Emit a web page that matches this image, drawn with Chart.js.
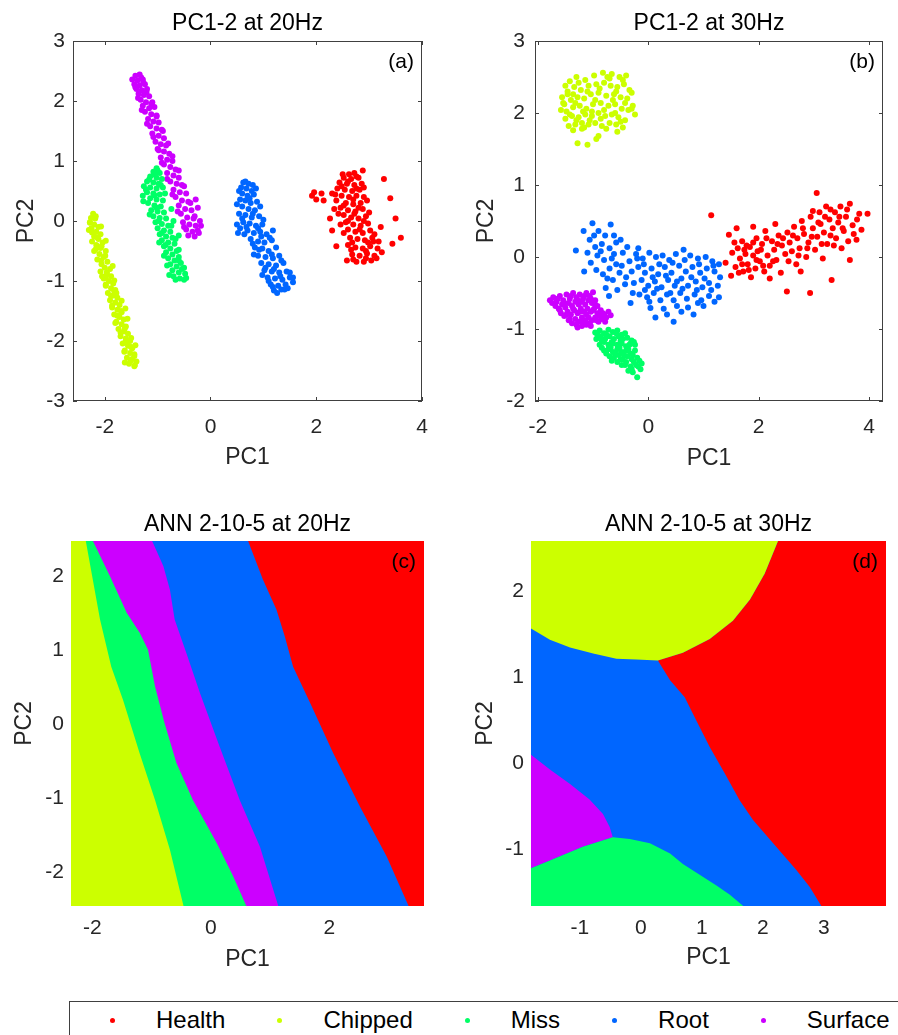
<!DOCTYPE html>
<html lang="en">
<head>
<meta charset="utf-8">
<title>PC1-2 / ANN 2-10-5</title>
<script src="https://cdn.jsdelivr.net/npm/chart.js@4.4.1/dist/chart.umd.min.js"></script>
<style>
  body { margin: 0; background: #fff; }
  #figura { position: relative; width: 898px; height: 1035px; overflow: hidden; font-family: "Liberation Sans", Arial, Helvetica, sans-serif; }
  .panel { position: absolute; }
  .panel canvas { display: block; }
  #leyenda { position: absolute; left: 69px; top: 1001px; width: 900px; height: 60px; box-sizing: border-box;
             border: 1px solid #404040; display: flex; align-items: flex-start; padding: 4px 0 0 40px;
             font-size: 24px; line-height: 28px; color: #000; }
  .item { display: flex; align-items: center; margin-right: 52px; }
  .punto { width: 5px; height: 5px; border-radius: 50%; margin-right: 41px; }
</style>
</head>
<body>
<div id="figura">
  <div class="panel" style="left:0;top:0"><canvas id="chartA" width="450" height="480"></canvas></div>
  <div class="panel" style="left:450px;top:0"><canvas id="chartB" width="448" height="480"></canvas></div>
  <div class="panel" style="left:0;top:480px"><canvas id="chartC" width="450" height="500"></canvas></div>
  <div class="panel" style="left:450px;top:480px"><canvas id="chartD" width="448" height="500"></canvas></div>
  <div id="leyenda"></div>
</div>

<script>
// clases y colores (hsv de 5 colores)
const clases = ['Health', 'Chipped', 'Miss', 'Root', 'Surface'];
const colores = { Health: '#ff0000', Chipped: '#ccff00', Miss: '#00ff66', Root: '#0066ff', Surface: '#cc00ff' };

// ---- (a) PC1-2 a 20Hz ----
const healthA = [[2.62,0.78],[2.72,0.8],[2.52,0.72],[2.66,0.7],[2.8,0.72],[2.44,0.64],[2.58,0.62],[2.72,0.6],[2.86,0.62],[2.4,0.54],[2.54,0.52],[2.68,0.5],[2.82,0.52],[2.3,0.46],[2.48,0.42],[2.62,0.4],[2.76,0.42],[2.9,0.4],[2.38,0.34],[2.56,0.3],[2.7,0.28],[2.84,0.3],[2.46,0.22],[2.6,0.18],[2.74,0.16],[2.88,0.2],[2.52,0.1],[2.66,0.06],[2.8,0.04],[2.94,0.08],[2.56,-0.02],[2.7,-0.06],[2.84,-0.08],[2.98,-0.04],[2.6,-0.14],[2.74,-0.18],[2.88,-0.2],[3.02,-0.16],[2.64,-0.28],[2.78,-0.3],[2.92,-0.32],[3.06,-0.28],[3.18,-0.34],[2.6,-0.4],[2.74,-0.44],[2.88,-0.46],[3.02,-0.42],[3.16,-0.46],[2.68,-0.56],[2.82,-0.58],[2.96,-0.54],[3.1,-0.58],[2.58,-0.66],[2.76,-0.68],[2.94,-0.62],[3.04,-0.66],[1.92,0.42],[2.0,0.36],[2.1,0.46],[2.14,0.34],[1.96,0.48],[2.88,0.84],[3.28,0.7],[3.4,0.38],[3.5,0.04],[3.6,-0.28],[3.44,-0.38],[2.38,-0.42],[2.3,-0.16],[2.26,0.04],[3.22,-0.1],
  [2.5,0.78],[2.76,0.74],[2.6,0.66],[2.48,0.58],[2.9,0.56],[2.76,0.54],[2.36,0.44],[2.7,0.36],[2.96,0.34],[2.52,0.26],[2.8,0.22],[2.42,0.12],[2.72,0.12],[3.0,0.14],[2.6,0.0],[2.9,-0.0],[2.52,-0.2],[2.82,-0.14],[3.1,-0.22],[2.68,-0.36],[2.98,-0.36],[2.66,-0.48],[2.94,-0.5],[3.24,-0.52],[2.9,-0.68],[2.7,-0.64],[3.14,-0.62],[3.08,-0.34],[2.46,-0.06],[2.34,0.2]];
const chippedA = [[-2.22,0.12],[-2.26,0.05],[-2.18,0.04],[-2.28,-0.02],[-2.2,-0.06],[-2.12,-0.1],[-2.25,-0.12],[-2.16,-0.18],[-2.3,-0.15],[-2.08,-0.22],[-2.2,-0.26],[-2.12,-0.3],[-2.24,-0.34],[-2.04,-0.36],[-2.16,-0.4],[-2.08,-0.45],[-2.2,-0.5],[-1.98,-0.5],[-2.1,-0.55],[-2.02,-0.6],[-2.14,-0.64],[-1.95,-0.68],[-2.06,-0.72],[-2.0,-0.78],[-1.9,-0.8],[-2.08,-0.84],[-1.96,-0.88],[-1.88,-0.92],[-2.02,-0.96],[-1.92,-1.0],[-1.84,-1.04],[-1.98,-1.08],[-1.88,-1.12],[-1.8,-1.15],[-1.94,-1.2],[-1.84,-1.24],[-1.76,-1.28],[-1.9,-1.32],[-1.8,-1.36],[-1.72,-1.4],[-1.86,-1.44],[-1.76,-1.48],[-1.68,-1.52],[-1.82,-1.56],[-1.72,-1.6],[-1.64,-1.64],[-1.78,-1.68],[-1.68,-1.72],[-1.6,-1.76],[-1.74,-1.8],[-1.64,-1.84],[-1.56,-1.88],[-1.7,-1.92],[-1.6,-1.96],[-1.52,-2.0],[-1.66,-2.04],[-1.56,-2.08],[-1.48,-2.12],[-1.62,-2.16],[-1.52,-2.2],[-1.44,-2.22],[-1.58,-2.28],[-1.48,-2.3],[-1.4,-2.34],[-1.54,-2.38],[-1.44,-2.42],[-1.62,-2.36],[-2.06,-0.42],[-1.98,-0.94],[-1.78,-1.2],
  [-2.17,0.08],[-2.28,-0.03],[-2.07,-0.09],[-2.15,-0.27],[-1.98,-0.33],[-2.17,-0.47],[-1.99,-0.58],[-2.07,-0.66],[-1.85,-0.75],[-1.96,-0.86],[-1.82,-0.99],[-1.98,-1.06],[-1.82,-1.17],[-1.88,-1.25],[-1.68,-1.33],[-1.86,-1.41],[-1.69,-1.5],[-1.76,-1.58],[-1.57,-1.63],[-1.8,-1.7],[-1.62,-1.79],[-1.7,-1.86],[-1.5,-1.95],[-1.61,-2.02],[-1.5,-2.1],[-1.63,-2.18],[-1.44,-2.25],[-1.51,-2.33],[-1.43,-2.4],[-2.24,-0.19],[-1.61,-1.46],[-2.05,-0.92],[-1.42,-2.07]];
const missA = [[-1.02,0.88],[-1.08,0.82],[-0.96,0.8],[-1.14,0.74],[-1.02,0.72],[-0.92,0.7],[-1.2,0.66],[-1.08,0.64],[-0.98,0.62],[-1.26,0.58],[-1.14,0.56],[-1.02,0.54],[-0.9,0.56],[-1.2,0.48],[-1.08,0.46],[-0.96,0.44],[-1.28,0.42],[-1.14,0.38],[-1.02,0.36],[-0.9,0.34],[-1.18,0.3],[-1.06,0.26],[-0.94,0.24],[-1.12,0.18],[-1.0,0.16],[-0.88,0.14],[-1.08,0.08],[-0.96,0.05],[-0.84,0.04],[-1.04,-0.02],[-0.92,-0.05],[-0.8,-0.08],[-1.0,-0.12],[-0.88,-0.16],[-0.76,-0.18],[-0.96,-0.22],[-0.84,-0.26],[-0.72,-0.28],[-0.92,-0.32],[-0.8,-0.36],[-0.68,-0.38],[-0.88,-0.42],[-0.76,-0.46],[-0.64,-0.5],[-0.84,-0.52],[-0.72,-0.56],[-0.6,-0.6],[-0.8,-0.62],[-0.68,-0.66],[-0.56,-0.7],[-0.76,-0.72],[-0.64,-0.76],[-0.5,-0.78],[-0.72,-0.82],[-0.6,-0.86],[-0.48,-0.88],[-0.7,-0.92],[-0.58,-0.96],[-0.5,-0.98],[-0.66,-0.98],[-0.74,0.2],[-0.7,0.0],[-0.6,-0.24],
  [-1.0,0.84],[-1.05,0.77],[-1.16,0.69],[-0.94,0.6],[-1.22,0.52],[-1.06,0.43],[-1.27,0.33],[-1.02,0.22],[-1.15,0.11],[-0.98,0.0],[-0.74,-0.08],[-0.92,-0.2],[-0.66,-0.3],[-0.85,-0.4],[-0.6,-0.48],[-0.88,-0.58],[-0.6,-0.66],[-0.82,-0.74],[-0.54,-0.8],[-0.78,-0.9],[-0.46,-0.95],[-0.97,-0.36],[-0.86,0.46]];
const rootA = [[0.62,0.64],[0.72,0.62],[0.8,0.6],[0.58,0.56],[0.68,0.54],[0.78,0.5],[0.6,0.46],[0.7,0.42],[0.82,0.44],[0.56,0.36],[0.66,0.34],[0.76,0.3],[0.88,0.32],[0.6,0.24],[0.72,0.2],[0.84,0.18],[0.54,0.12],[0.66,0.1],[0.78,0.06],[0.92,0.08],[0.62,-0.02],[0.74,-0.04],[0.86,-0.08],[0.98,-0.06],[0.56,-0.12],[0.7,-0.16],[0.82,-0.2],[0.94,-0.18],[1.06,-0.22],[0.76,-0.3],[0.9,-0.34],[1.02,-0.36],[1.16,-0.32],[0.84,-0.44],[0.98,-0.46],[1.1,-0.5],[0.9,-0.58],[1.04,-0.6],[1.18,-0.62],[1.3,-0.58],[0.96,-0.7],[1.1,-0.72],[1.24,-0.74],[1.38,-0.7],[1.02,-0.82],[1.16,-0.84],[1.3,-0.86],[1.44,-0.84],[1.08,-0.94],[1.22,-0.96],[1.36,-0.98],[1.5,-0.94],[1.14,-1.06],[1.28,-1.08],[1.42,-1.06],[1.2,-1.16],[1.34,-1.14],[1.46,-1.12],[0.64,-0.22],[1.56,-1.02],[0.5,-0.06],[1.18,-0.16],
  [0.66,0.66],[0.54,0.5],[0.86,0.54],[0.74,0.38],[0.5,0.28],[0.94,0.24],[0.8,0.12],[0.6,0.04],[1.0,0.02],[0.68,-0.1],[0.9,-0.12],[0.52,-0.2],[1.12,-0.28],[0.8,-0.38],[0.96,-0.26],[1.24,-0.44],[0.92,-0.48],[1.16,-0.56],[0.82,-0.56],[1.34,-0.66],[1.04,-0.78],[1.2,-0.8],[0.98,-0.9],[1.5,-0.86],[1.32,-0.92],[1.1,-1.0],[1.56,-0.94],[1.4,-1.14],[1.26,-1.2],[1.18,-1.1]];
const surfaceA = [[-1.42,2.42],[-1.34,2.44],[-1.48,2.36],[-1.38,2.34],[-1.28,2.36],[-1.44,2.28],[-1.34,2.26],[-1.24,2.28],[-1.4,2.2],[-1.3,2.18],[-1.2,2.2],[-1.36,2.12],[-1.26,2.1],[-1.16,2.08],[-1.32,2.02],[-1.22,1.98],[-1.1,1.98],[-1.28,1.92],[-1.16,1.88],[-1.06,1.9],[-1.24,1.82],[-1.12,1.78],[-1.02,1.76],[-1.18,1.7],[-1.08,1.66],[-0.98,1.64],[-1.14,1.58],[-1.02,1.54],[-0.92,1.52],[-1.1,1.46],[-0.98,1.42],[-0.88,1.38],[-1.04,1.32],[-0.94,1.28],[-0.84,1.26],[-1.0,1.2],[-0.88,1.16],[-0.78,1.12],[-0.94,1.06],[-0.82,1.02],[-0.72,1.0],[-0.88,0.94],[-0.76,0.9],[-0.66,0.86],[-0.82,0.8],[-0.7,0.76],[-0.6,0.72],[-0.76,0.66],[-0.64,0.62],[-0.54,0.6],[-0.7,0.52],[-0.58,0.48],[-0.46,0.46],[-0.66,0.4],[-0.54,0.34],[-0.42,0.32],[-0.6,0.26],[-0.48,0.2],[-0.36,0.18],[-0.56,0.12],[-0.44,0.06],[-0.32,0.04],[-0.52,-0.02],[-0.4,-0.06],[-0.28,-0.08],[-0.46,-0.14],[-0.34,-0.18],[-0.24,-0.16],[-0.42,-0.24],[-0.3,-0.26],[-0.28,0.36],[-0.24,0.22],[-0.2,0.0],
  [-1.31,2.39],[-1.27,2.31],[-1.42,2.23],[-1.21,2.15],[-1.37,2.05],[-1.12,1.95],[-1.3,1.85],[-1.02,1.74],[-1.2,1.62],[-0.9,1.5],[-1.08,1.4],[-0.8,1.29],[-0.98,1.18],[-0.72,1.08],[-0.92,0.97],[-0.6,0.84],[-0.82,0.7],[-0.5,0.58],[-0.72,0.44],[-0.38,0.3],[-0.62,0.16],[-0.3,0.08],[-0.5,-0.1],[-0.22,-0.2],[-0.18,-0.08]];

// ---- (b) PC1-2 a 30Hz ----
const healthB = [[1.14,0.58],[1.4,-0.08],[1.46,0.31],[1.5,-0.26],[1.52,0.06],[1.58,-0.14],[1.62,0.12],[1.66,-0.02],[1.7,0.22],[1.72,-0.2],[1.76,0.04],[1.8,-0.1],[1.84,0.14],[1.86,-0.28],[1.9,0.02],[1.94,-0.16],[1.96,0.26],[1.98,0.08],[2.02,-0.06],[2.06,0.18],[2.1,-0.2],[2.12,0.36],[2.16,0.02],[2.2,-0.12],[2.24,0.22],[2.28,0.1],[2.32,-0.04],[2.36,0.3],[2.4,-0.22],[2.42,0.16],[2.48,0.04],[2.51,-0.48],[2.52,0.34],[2.56,0.2],[2.6,0.08],[2.64,0.42],[2.68,-0.1],[2.7,0.26],[2.74,0.12],[2.78,0.5],[2.82,0.32],[2.86,0.0],[2.9,0.2],[2.93,-0.5],[2.94,0.56],[2.98,0.4],[3.02,0.1],[3.05,0.89],[3.06,0.28],[3.1,0.62],[3.12,0.46],[3.16,-0.02],[3.18,0.34],[3.22,0.7],[3.24,0.18],[3.28,0.52],[3.32,-0.32],[3.34,0.4],[3.38,0.62],[3.4,0.26],[3.44,0.48],[3.48,0.7],[3.5,0.12],[3.54,0.36],[3.58,0.56],[3.62,0.22],[3.65,-0.04],[3.65,0.74],[3.7,0.44],[3.77,0.24],[3.82,0.6],[3.86,0.38],[3.97,0.6],[1.9,0.42],[2.3,0.46],[1.6,0.4],[2.2,-0.3],[2.76,-0.2],
  [1.56,0.2],[1.64,-0.22],[1.74,0.1],[1.82,-0.18],[1.9,0.2],[1.96,-0.04],[2.04,0.1],[2.08,-0.12],[2.14,0.26],[2.26,-0.06],[2.34,0.18],[2.44,0.26],[2.54,-0.06],[2.62,0.3],[2.72,0.02],[2.8,0.4],[2.88,0.12],[2.96,0.28],[3.08,0.48],[3.14,0.18],[3.2,0.56],[3.3,0.3],[3.36,0.16],[3.46,0.56],[3.52,0.4],[3.6,0.66],[3.72,0.32],[3.78,0.52],[3.3,0.66],[2.98,0.64],[1.7,-0.1],[1.78,0.16]];
const chippedB = [[-1.5,2.38],[-1.42,2.44],[-1.3,2.5],[-1.14,2.46],[-0.98,2.52],[-0.82,2.56],[-0.66,2.54],[-0.52,2.5],[-0.4,2.52],[-1.56,2.22],[-1.46,2.3],[-1.34,2.36],[-1.22,2.32],[-1.08,2.38],[-0.94,2.4],[-0.8,2.42],[-0.68,2.38],[-0.56,2.36],[-0.44,2.4],[-0.34,2.32],[-1.52,2.12],[-1.4,2.18],[-1.28,2.22],[-1.16,2.2],[-1.04,2.26],[-0.9,2.28],[-0.76,2.24],[-0.62,2.26],[-0.5,2.22],[-0.38,2.2],[-0.28,2.1],[-1.58,2.04],[-1.48,2.02],[-1.36,2.08],[-1.24,2.1],[-1.12,2.06],[-1.0,2.12],[-0.86,2.14],[-0.72,2.1],[-0.6,2.12],[-0.48,2.06],[-0.36,2.04],[-0.24,1.98],[-1.5,1.92],[-1.38,1.96],[-1.26,1.94],[-1.14,1.98],[-1.02,1.96],[-0.9,2.0],[-0.78,1.96],[-0.66,1.98],[-0.54,1.94],[-0.42,1.9],[-1.44,1.82],[-1.32,1.84],[-1.2,1.86],[-1.08,1.84],[-0.96,1.86],[-0.84,1.82],[-0.7,1.86],[-0.58,1.84],[-0.46,1.8],[-1.36,1.76],[-1.2,1.78],[-0.9,1.68],[-0.94,1.64],[-1.28,1.58],[-1.1,1.56],[-0.56,1.74],[-0.3,2.28],[-0.7,2.48],
  [-1.46,2.26],[-1.26,2.42],[-1.1,2.3],[-0.88,2.34],[-0.74,2.5],[-0.58,2.3],[-0.46,2.46],[-1.32,2.14],[-1.18,2.02],[-0.96,2.18],[-0.8,2.04],[-0.64,2.18],[-0.42,2.14],[-1.42,1.98],[-1.3,1.9],[-1.06,1.9],[-0.86,1.92],[-0.6,2.0],[-0.5,1.88],[-1.54,2.14],[-1.16,1.8],[-0.76,1.78],[-1.02,2.02],[-0.3,2.06],[-1.36,2.26]];
const missB = [[-0.96,-1.05],[-0.88,-1.02],[-0.8,-1.06],[-0.72,-1.01],[-0.64,-1.04],[-0.56,-1.02],[-0.48,-1.08],[-0.94,-1.14],[-0.86,-1.1],[-0.78,-1.14],[-0.7,-1.1],[-0.62,-1.14],[-0.54,-1.1],[-0.46,-1.14],[-0.38,-1.12],[-0.3,-1.16],[-0.88,-1.22],[-0.8,-1.18],[-0.72,-1.22],[-0.64,-1.2],[-0.56,-1.22],[-0.48,-1.2],[-0.4,-1.24],[-0.32,-1.2],[-0.24,-1.22],[-0.8,-1.3],[-0.72,-1.28],[-0.64,-1.32],[-0.56,-1.28],[-0.48,-1.32],[-0.4,-1.3],[-0.32,-1.34],[-0.24,-1.3],[-0.7,-1.38],[-0.62,-1.4],[-0.54,-1.36],[-0.46,-1.42],[-0.38,-1.38],[-0.3,-1.42],[-0.2,-1.4],[-0.12,-1.48],[-0.56,-1.46],[-0.48,-1.5],[-0.4,-1.46],[-0.32,-1.52],[-0.22,-1.5],[-0.14,-1.56],[-0.36,-1.58],[-0.28,-1.6],[-0.2,-1.67],
  [-0.92,-1.08],[-0.84,-1.16],[-0.76,-1.08],[-0.66,-1.18],[-0.58,-1.06],[-0.5,-1.16],[-0.42,-1.06],[-0.34,-1.22],[-0.26,-1.18],[-0.84,-1.26],[-0.68,-1.26],[-0.6,-1.34],[-0.52,-1.26],[-0.44,-1.36],[-0.36,-1.28],[-0.28,-1.36],[-0.66,-1.44],[-0.5,-1.42],[-0.42,-1.5],[-0.26,-1.46],[-0.18,-1.52],[-0.3,-1.56],[-0.16,-1.44],[-0.76,-1.34]];
const rootB = [[-1.31,0.09],[-1.16,-0.2],[-1.01,0.47],[-0.68,0.45],[-1.17,0.36],[-0.9,0.36],[-0.78,0.3],[-1.06,0.24],[-0.96,0.14],[-0.84,0.18],[-0.7,0.12],[-1.04,-0.08],[-0.92,0.02],[-0.8,-0.04],[-0.66,-0.02],[-0.58,0.2],[-0.5,0.24],[-0.94,-0.18],[-0.82,-0.24],[-0.7,-0.16],[-0.58,-0.1],[-0.77,-0.43],[-0.71,-0.54],[-0.64,-0.32],[-0.52,-0.22],[-0.46,0.06],[-0.42,-0.38],[-0.32,-0.64],[-0.56,-0.46],[-0.34,-0.06],[-0.22,0.04],[-0.1,-0.02],[0.02,0.06],[0.14,0.0],[0.26,0.02],[0.38,-0.04],[0.5,0.04],[0.64,0.1],[0.76,0.02],[0.9,-0.02],[1.04,0.0],[1.16,-0.06],[-0.3,-0.2],[-0.18,-0.14],[-0.06,-0.22],[0.06,-0.16],[0.18,-0.24],[0.3,-0.14],[0.42,-0.22],[0.56,-0.12],[0.68,-0.2],[0.8,-0.14],[0.94,-0.22],[1.06,-0.16],[1.2,-0.2],[1.28,-0.1],[-0.26,-0.36],[-0.12,-0.32],[0.0,-0.4],[0.12,-0.34],[0.24,-0.42],[0.36,-0.32],[0.48,-0.4],[0.6,-0.3],[0.72,-0.4],[0.86,-0.34],[0.98,-0.42],[1.1,-0.36],[1.26,-0.4],[-0.16,-0.52],[-0.02,-0.56],[0.1,-0.5],[0.22,-0.6],[0.34,-0.52],[0.46,-0.6],[0.58,-0.5],[0.7,-0.58],[0.84,-0.52],[0.96,-0.6],[1.1,-0.54],[1.28,-0.56],[0.04,-0.71],[0.13,-0.84],[0.28,-0.72],[0.46,-0.9],[0.6,-0.76],[0.82,-0.8],[0.72,-0.7],[1.0,-0.68],
  [-0.98,0.3],[-0.86,0.08],[-0.62,0.3],[-1.1,0.06],[-0.74,-0.3],[-0.62,0.04],[-0.48,-0.12],[-0.38,0.14],[-0.4,-0.28],[-0.28,-0.5],[-0.2,-0.02],[-0.08,-0.1],[0.08,-0.28],[0.2,-0.1],[0.32,-0.26],[0.44,-0.08],[0.52,-0.34],[0.62,-0.44],[0.66,-0.04],[0.78,-0.28],[0.88,-0.46],[0.92,-0.1],[1.02,-0.3],[1.14,-0.46],[1.18,-0.12],[1.3,-0.28],[0.4,-0.5],[0.16,-0.44],[-0.06,-0.46],[0.52,-0.68],[0.34,-0.8],[0.9,-0.64],[1.2,-0.62],[0.02,-0.62],[-0.18,0.12]];
const surfaceB = [[-1.78,-0.6],[-1.72,-0.56],[-1.66,-0.62],[-1.6,-0.54],[-1.54,-0.6],[-1.48,-0.52],[-1.42,-0.58],[-1.36,-0.5],[-1.3,-0.56],[-1.24,-0.52],[-1.18,-0.58],[-1.12,-0.5],[-1.06,-0.54],[-1.0,-0.49],[-1.68,-0.68],[-1.62,-0.72],[-1.56,-0.66],[-1.5,-0.7],[-1.44,-0.64],[-1.38,-0.68],[-1.32,-0.62],[-1.26,-0.66],[-1.2,-0.62],[-1.14,-0.66],[-1.08,-0.6],[-1.02,-0.64],[-0.96,-0.6],[-0.92,-0.68],[-1.58,-0.78],[-1.52,-0.82],[-1.46,-0.76],[-1.4,-0.8],[-1.34,-0.74],[-1.28,-0.78],[-1.22,-0.72],[-1.16,-0.76],[-1.1,-0.72],[-1.04,-0.76],[-0.98,-0.72],[-0.92,-0.78],[-0.86,-0.74],[-0.8,-0.8],[-0.72,-0.76],[-0.68,-0.81],[-1.44,-0.88],[-1.38,-0.92],[-1.32,-0.86],[-1.26,-0.9],[-1.2,-0.84],[-1.14,-0.88],[-1.08,-0.84],[-1.02,-0.88],[-0.96,-0.84],[-0.9,-0.9],[-0.84,-0.86],[-0.78,-0.9],[-1.28,-0.98],[-1.2,-0.96],[-1.12,-0.94],[-1.04,-0.96],
  [-1.74,-0.64],[-1.64,-0.58],[-1.52,-0.64],[-1.4,-0.54],[-1.28,-0.6],[-1.16,-0.54],[-1.04,-0.58],[-0.96,-0.66],[-1.6,-0.74],[-1.48,-0.8],[-1.36,-0.72],[-1.24,-0.76],[-1.12,-0.8],[-1.0,-0.74],[-0.88,-0.82],[-0.76,-0.84],[-1.42,-0.86],[-1.3,-0.94],[-1.18,-0.9],[-1.06,-0.92],[-0.94,-0.88],[-0.82,-0.78]];

// ---- (c) fronteras de decision ANN a 20Hz (de arriba a abajo) ----
const bordeChippedMissC = [[-2.11,2.47],[-1.87,1.41],[-1.68,0.77],[-1.48,0.32],[-1.2,-0.4],[-0.94,-1.03],[-0.69,-1.7],[-0.46,-2.46]];
const bordeMissSurfaceC = [[-1.99,2.47],[-1.7,1.99],[-1.42,1.5],[-1.2,1.23],[-1.06,1.0],[-0.94,0.5],[-0.78,0.01],[-0.58,-0.53],[-0.3,-1.03],[0.1,-1.61],[0.38,-2.06],[0.6,-2.46]];
const bordeSurfaceRootC = [[-0.99,2.47],[-0.8,2.13],[-0.69,1.81],[-0.61,1.41],[-0.41,0.95],[-0.18,0.41],[0.15,-0.31],[0.49,-1.03],[0.83,-1.66],[1.14,-2.46]];
const bordeRootHealthC = [[0.63,2.47],[0.88,1.95],[1.11,1.54],[1.25,1.18],[1.39,0.77],[1.68,0.28],[2.07,-0.4],[2.52,-1.12],[2.97,-1.79],[3.34,-2.46]];

// ---- (d) fronteras de decision ANN a 30Hz ----
const bordeChippedRootD = [[-1.8,1.57],[-1.49,1.44],[-1.16,1.35],[-0.78,1.28],[-0.4,1.22],[-0.07,1.21],[0.28,1.2]];
const bordeChippedHealthD = [[0.28,1.2],[0.69,1.29],[1.13,1.45],[1.51,1.66],[1.79,1.91],[2.03,2.21],[2.25,2.59]];
const bordeRootHealthD = [[0.28,1.2],[0.48,0.97],[0.72,0.77],[0.91,0.5],[1.13,0.19],[1.38,-0.12],[1.62,-0.43],[1.84,-0.66],[2.17,-0.93],[2.55,-1.24],[2.77,-1.44],[2.96,-1.66]];
const bordeSurfaceD = [[-1.8,0.1],[-1.49,-0.07],[-1.16,-0.24],[-0.84,-0.42],[-0.62,-0.59],[-0.51,-0.74],[-0.46,-0.86],[-0.95,-0.97],[-1.49,-1.13],[-1.8,-1.22]];
const bordeMissD = [[-1.8,-1.22],[-1.49,-1.13],[-0.95,-0.97],[-0.46,-0.86],[-0.18,-0.88],[0.15,-0.93],[0.48,-1.05],[0.69,-1.17],[1.24,-1.42],[1.46,-1.53],[1.68,-1.66]];

// ticks
const ticksXA = [-2, 0, 2, 4];
const ticksYA = [-3, -2, -1, 0, 1, 2, 3];
const ticksXB = [-2, 0, 2, 4];
const ticksYB = [-2, -1, 0, 1, 2, 3];
const ticksXC = [-2, 0, 2];
const ticksYC = [-2, -1, 0, 1, 2];
const ticksXD = [-1, 0, 1, 2, 3];
const ticksYD = [-1, 0, 1, 2];

const FUENTE = '"Liberation Sans", Arial, Helvetica, sans-serif';
Chart.defaults.font.family = FUENTE;
Chart.defaults.color = '#262626';

// caja de ejes con ticks hacia adentro (estilo MATLAB)
const pluginCaja = {
    id: 'cajaEjes',
    afterDatasetsDraw(chart, args, opts) {
        if (!opts.mostrar) return;
        const { ctx, chartArea: a, scales: { x, y } } = chart;
        ctx.save();
        ctx.strokeStyle = '#404040';
        ctx.lineWidth = 1;
        ctx.strokeRect(a.left + 0.5, a.top + 0.5, a.width - 1, a.height - 1);
        ctx.beginPath();
        x.ticks.forEach(t => {
            const px = Math.round(x.getPixelForValue(t.value)) + 0.5;
            ctx.moveTo(px, a.bottom); ctx.lineTo(px, a.bottom - 4);
            ctx.moveTo(px, a.top); ctx.lineTo(px, a.top + 4);
        });
        y.ticks.forEach(t => {
            const py = Math.round(y.getPixelForValue(t.value)) + 0.5;
            ctx.moveTo(a.left, py); ctx.lineTo(a.left + 4, py);
            ctx.moveTo(a.right, py); ctx.lineTo(a.right - 4, py);
        });
        ctx.stroke();
        ctx.restore();
    }
};

// (a), (b), ... en la esquina superior derecha
const pluginEtiqueta = {
    id: 'etiquetaPanel',
    afterDraw(chart, args, opts) {
        const { ctx, chartArea: a } = chart;
        ctx.save();
        ctx.font = '21px ' + FUENTE;
        ctx.fillStyle = '#000';
        ctx.textAlign = 'right';
        ctx.textBaseline = 'middle';
        ctx.fillText(opts.texto, a.right - 8, a.top + 21);
        ctx.restore();
    }
};

function puntos(lista) {
    return lista.map(([x, y]) => ({ x: x, y: y }));
}

function serieDispersion(nombre, lista) {
    return {
        label: nombre,
        data: puntos(lista),
        showLine: false,
        pointRadius: 3,
        pointBorderWidth: 0,
        pointBackgroundColor: colores[nombre],
        backgroundColor: colores[nombre]
    };
}

function capaRegion(nombre, poligono) {
    return {
        label: nombre,
        data: puntos(poligono),
        showLine: true,
        fill: 'shape',
        backgroundColor: colores[nombre],
        borderWidth: 0,
        pointRadius: 0
    };
}

// capas ordenadas de abajo hacia arriba
function ordenarCapas(capas) {
    capas.forEach((c, i) => { c.order = capas.length - i; });
    return capas;
}

function regionesC(lim) {
    const x0 = lim.x[0] - 0.1, x1 = lim.x[1] + 0.1, y0 = lim.y[0] - 0.1, y1 = lim.y[1] + 0.1;
    return ordenarCapas([
        capaRegion('Health', [[x0, y1], [x1, y1], [x1, y0], [x0, y0]]),
        capaRegion('Root', [[x0, y1], ...bordeRootHealthC, [x0, y0]]),
        capaRegion('Surface', [[x0, y1], ...bordeSurfaceRootC, [x0, y0]]),
        capaRegion('Miss', [[x0, y1], ...bordeMissSurfaceC, [x0, y0]]),
        capaRegion('Chipped', [[x0, y1], ...bordeChippedMissC, [x0, y0]])
    ]);
}

function regionesD(lim) {
    const x0 = lim.x[0] - 0.1, x1 = lim.x[1] + 0.1, y0 = lim.y[0] - 0.1, y1 = lim.y[1] + 0.1;
    return ordenarCapas([
        capaRegion('Health', [[x0, y1], [x1, y1], [x1, y0], [x0, y0]]),
        capaRegion('Root', [[x0, y1], ...bordeChippedHealthD.slice().reverse(), ...bordeRootHealthD, [x0, y0]]),
        capaRegion('Chipped', [[x0, y1], ...bordeChippedRootD, ...bordeChippedHealthD]),
        capaRegion('Surface', bordeSurfaceD),
        capaRegion('Miss', [...bordeMissD, [x0, y0]])
    ]);
}

function crearPanel(id, cfg) {
    return new Chart(document.getElementById(id), {
        type: 'scatter',
        data: { datasets: cfg.datasets },
        options: {
            responsive: false,
            animation: false,
            events: [],
            layout: { autoPadding: false, padding: { left: 0, right: cfg.derecha, top: 0, bottom: 0 } },
            plugins: {
                legend: { display: false },
                tooltip: { enabled: false },
                title: {
                    display: true, text: cfg.titulo, fullSize: false, color: '#000',
                    font: { size: 23, weight: 'normal' },
                    padding: { top: cfg.tituloArriba, bottom: cfg.tituloAbajo }
                },
                etiquetaPanel: { texto: cfg.etiqueta },
                cajaEjes: { mostrar: cfg.caja }
            },
            scales: {
                x: {
                    type: 'linear', min: cfg.limites.x[0], max: cfg.limites.x[1],
                    grid: { display: false, drawTicks: false },
                    border: { display: false },
                    ticks: { padding: cfg.padTickX, font: { size: 21 }, maxRotation: 0, minRotation: 0, autoSkip: false },
                    afterBuildTicks: s => { s.ticks = cfg.ticksX.map(v => ({ value: v })); },
                    afterFit: s => { s.height = cfg.altoX; s.paddingLeft = 0; s.paddingRight = 0; },
                    title: { display: true, text: 'PC1', font: { size: 23 }, padding: { top: 0, bottom: cfg.padTituloX } }
                },
                y: {
                    type: 'linear', min: cfg.limites.y[0], max: cfg.limites.y[1],
                    grid: { display: false, drawTicks: false },
                    border: { display: false },
                    ticks: { padding: cfg.padTickY, font: { size: 21 }, autoSkip: false },
                    afterBuildTicks: s => { s.ticks = cfg.ticksY.map(v => ({ value: v })); },
                    afterFit: s => { s.width = cfg.anchoY; s.paddingTop = 0; s.paddingBottom = 0; },
                    title: { display: true, text: 'PC2', font: { size: 23 }, padding: { top: cfg.padTituloY, bottom: 0 } }
                }
            }
        },
        plugins: [pluginCaja, pluginEtiqueta]
    });
}

function crearLeyenda() {
    const cont = document.getElementById('leyenda');
    clases.forEach(nombre => {
        const item = document.createElement('div');
        item.className = 'item';
        const punto = document.createElement('span');
        punto.className = 'punto';
        punto.style.background = colores[nombre];
        const texto = document.createElement('span');
        texto.textContent = nombre;
        item.appendChild(punto);
        item.appendChild(texto);
        cont.appendChild(item);
    });
}

document.addEventListener('DOMContentLoaded', function() {
    const limA = { x: [-2.6, 4], y: [-3, 3] };
    const limB = { x: [-2.05, 4.25], y: [-2, 3] };
    const limC = { x: [-2.36, 3.6], y: [-2.46, 2.47] };
    const limD = { x: [-1.8, 4.02], y: [-1.66, 2.59] };

    crearPanel('chartA', {
        titulo: 'PC1-2 at 20Hz', etiqueta: '(a)', caja: true, limites: limA,
        ticksX: ticksXA, ticksY: ticksYA,
        datasets: [serieDispersion('Health', healthA), serieDispersion('Chipped', chippedA),
                   serieDispersion('Miss', missA), serieDispersion('Root', rootA), serieDispersion('Surface', surfaceA)],
        derecha: 28, anchoY: 73, altoX: 79, tituloArriba: 9.7, tituloAbajo: 3.7,
        padTickX: 13.4, padTickY: 8, padTituloX: 8.2, padTituloY: 13.2
    });
    crearPanel('chartB', {
        titulo: 'PC1-2 at 30Hz', etiqueta: '(b)', caja: true, limites: limB,
        ticksX: ticksXB, ticksY: ticksYB,
        datasets: [serieDispersion('Health', healthB), serieDispersion('Chipped', chippedB),
                   serieDispersion('Miss', missB), serieDispersion('Root', rootB), serieDispersion('Surface', surfaceB)],
        derecha: 15, anchoY: 85, altoX: 79, tituloArriba: 9.7, tituloAbajo: 3.7,
        padTickX: 13.4, padTickY: 10, padTituloX: 7.2, padTituloY: 23.2
    });
    crearPanel('chartC', {
        titulo: 'ANN 2-10-5 at 20Hz', etiqueta: '(c)', caja: false, limites: limC,
        ticksX: ticksXC, ticksY: ticksYC,
        datasets: regionesC(limC),
        derecha: 26, anchoY: 71, altoX: 74, tituloArriba: 31.2, tituloAbajo: 2.2,
        padTickX: 9.4, padTickY: 7, padTituloX: 6.2, padTituloY: 11.2
    });
    crearPanel('chartD', {
        titulo: 'ANN 2-10-5 at 30Hz', etiqueta: '(d)', caja: false, limites: limD,
        ticksX: ticksXD, ticksY: ticksYD,
        datasets: regionesD(limD),
        derecha: 12, anchoY: 81, altoX: 74, tituloArriba: 31.2, tituloAbajo: 2.2,
        padTickX: 9.4, padTickY: 7, padTituloX: 8.2, padTituloY: 22.2
    });
    crearLeyenda();
});
</script>
</body>
</html>
